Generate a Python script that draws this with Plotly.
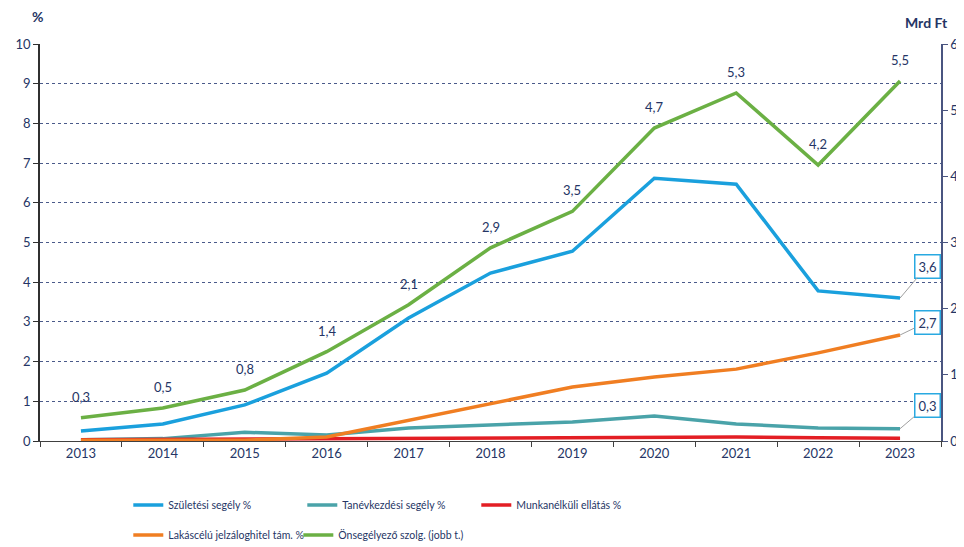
import plotly.graph_objects as go

years = [2013, 2014, 2015, 2016, 2017, 2018, 2019, 2020, 2021, 2022, 2023]
szuletesi = [0.25, 0.43, 0.91, 1.71, 3.10, 4.23, 4.78, 6.62, 6.47, 3.78, 3.60]
tanevkezdesi = [0.03, 0.06, 0.22, 0.15, 0.33, 0.40, 0.48, 0.63, 0.43, 0.33, 0.31]
munkanelkuli = [0.03, 0.04, 0.05, 0.07, 0.06, 0.07, 0.08, 0.10, 0.10, 0.08, 0.07]
lakascelu = [0.02, 0.02, 0.02, 0.10, 0.52, 0.96, 1.36, 1.61, 1.81, 2.22, 2.67]
onsegelyezo = [0.35, 0.50, 0.77, 1.35, 2.06, 2.92, 3.47, 4.73, 5.26, 4.17, 5.44]
onseg_labels = ["0,3","0,5","0,8","1,4","2,1","2,9","3,5","4,7","5,3","4,2","5,5"]
end_labels = ["3,6", "2,7", "0,3"]

navy = "#253565"
FONT = "Lato"

fig = go.Figure()
lw = 3.5
fig.add_trace(go.Scatter(x=years, y=tanevkezdesi, name="Tanévkezdési segély %", mode="lines",
                         line=dict(color="#4AA3A9", width=lw), legend="legend", legendrank=2))
fig.add_trace(go.Scatter(x=years, y=munkanelkuli, name="Munkanélküli ellátás %", mode="lines",
                         line=dict(color="#E31E24", width=lw), legend="legend", legendrank=3))
fig.add_trace(go.Scatter(x=years, y=lakascelu, name="Lakáscélú jelzáloghitel tám. %", mode="lines",
                         line=dict(color="#F07E22", width=lw), legend="legend2"))
fig.add_trace(go.Scatter(x=years, y=szuletesi, name="Születési segély %", mode="lines",
                         line=dict(color="#1AA0DD", width=lw), legend="legend", legendrank=1))
fig.add_trace(go.Scatter(x=years, y=onsegelyezo, name="Önsegélyező szolg. (jobb t.)", mode="lines",
                         line=dict(color="#6BB044", width=lw), yaxis="y2", legend="legend3"))

for yr, v, t in zip(years, onsegelyezo, onseg_labels):
    fig.add_annotation(x=yr, y=v, xref="x", yref="y2", text=t, showarrow=False,
                       yshift=21, font=dict(color=navy, size=13, family=FONT))

ends = [(szuletesi[-1], end_labels[0], -32), (lakascelu[-1], end_labels[1], -13), (tanevkezdesi[-1], end_labels[2], -23)]
for v, t, ay in ends:
    fig.add_annotation(x=years[-1], y=v, xref="x", yref="y", text=t, showarrow=True,
                       arrowhead=0, arrowwidth=1, arrowcolor="#A0A0A0", ax=27, ay=ay,
                       bordercolor="#29A9E1", borderwidth=1.5, borderpad=3, bgcolor="white",
                       font=dict(color=navy, size=13, family=FONT))

fig.add_annotation(x=-0.003, y=1.07, xref="paper", yref="paper", text="<b>%</b>", showarrow=False,
                   xanchor="center", yanchor="middle", font=dict(color=navy, size=14, family=FONT))
fig.add_annotation(x=1.01, y=1.055, xref="paper", yref="paper", text="<b>Mrd Ft</b>", showarrow=False,
                   xanchor="right", yanchor="middle", font=dict(color=navy, size=14, family=FONT))

leg_font = dict(size=10.5, color=navy, family=FONT)
leg_common = dict(orientation="h", xanchor="left", yanchor="middle",
                  font=leg_font, bgcolor="rgba(0,0,0,0)")

boundaries = [y - 0.5 for y in years] + [years[-1] + 0.5]

fig.update_layout(
    template="none",
    width=956, height=539,
    margin=dict(l=32, r=23, t=36, b=106, autoexpand=False),
    paper_bgcolor="white", plot_bgcolor="white",
    font=dict(family=FONT, size=13, color=navy),
    showlegend=True,
    legend=dict(x=0.098, y=-0.161, entrywidth=129, **leg_common),
    legend2=dict(x=0.098, y=-0.237, **leg_common),
    legend3=dict(x=0.2867, y=-0.237, **leg_common),
    xaxis=dict(range=[years[0] - 0.5, years[-1] + 0.5], tickvals=years, ticktext=[str(y) for y in years],
               showline=True, linecolor="#404040", ticks="", showgrid=False, zeroline=False,
               minor=dict(tickvals=boundaries, ticks="outside", ticklen=5, tickcolor="#404040", showgrid=False),
               automargin=False, tickfont=dict(size=13, color=navy)),
    yaxis=dict(range=[0, 10], dtick=1, showline=True, linecolor="#303030", linewidth=1.5,
               ticks="outside", ticklen=5, tickcolor="#303030",
               showgrid=True, gridcolor="#4A5A8A", griddash="dot", gridwidth=1,
               zeroline=False, automargin=False, tickfont=dict(size=13, color=navy)),
    yaxis2=dict(range=[0, 6], dtick=1, overlaying="y", side="right", showline=True,
                linecolor="#4A5580", linewidth=1.5, ticks="outside", ticklen=5, tickcolor="#4A5580",
                showgrid=False, zeroline=False, automargin=False, tickfont=dict(size=13, color=navy)),
)

fig.write_html("out.html")
